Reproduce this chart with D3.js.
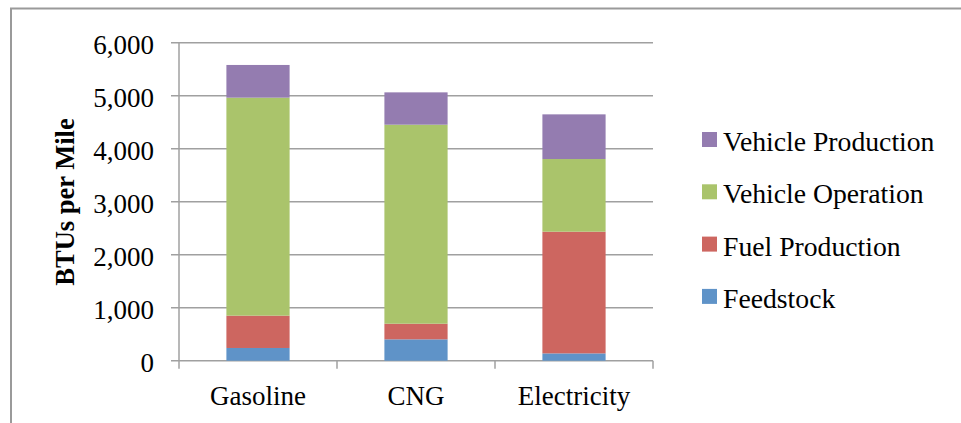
<!DOCTYPE html>
<html>
<head>
<meta charset="utf-8">
<script src="https://cdn.jsdelivr.net/npm/d3@7"></script>
<style>
  html, body { margin: 0; padding: 0; background: #fff; }
  #container { width: 961px; height: 423px; }
  text { font-family: "Liberation Serif", "DejaVu Serif", serif; fill: #000; }
</style>
</head>
<body>
<div id="container"></div>
<script>
const categories = ["Gasoline", "CNG", "Electricity"];
const seriesNames = ["Feedstock", "Fuel Production", "Vehicle Operation", "Vehicle Production"];
const feedstock = [240, 403, 138];
const fuelProduction = [610, 295, 2296];
const vehicleOperation = [4113, 3755, 1371];
const vehicleProduction = [617, 610, 843];
const yTicks = [0, 1000, 2000, 3000, 4000, 5000, 6000];
const colors = ["#5f93c8", "#cd6660", "#aac46b", "#947cb0"];

function draw() {
  const W = 961, H = 423;
  const margin = {top: 42.7, right: 308, bottom: 62.3, left: 179};
  const width = W - margin.left - margin.right;
  const height = H - margin.top - margin.bottom;

  const svg = d3.select("#container")
    .append("svg")
    .attr("width", W)
    .attr("height", H);

  // outer chart border (runs past the right and bottom edges)
  svg.append("rect")
    .attr("x", 11)
    .attr("y", 8.5)
    .attr("width", W + 20)
    .attr("height", H + 20)
    .attr("fill", "none")
    .attr("stroke", "#9a9a9a")
    .attr("stroke-width", 2);

  const g = svg.append("g")
    .attr("transform", `translate(${margin.left},${margin.top})`);

  const rows = categories.map((c, i) => ({
    category: c,
    "Feedstock": feedstock[i],
    "Fuel Production": fuelProduction[i],
    "Vehicle Operation": vehicleOperation[i],
    "Vehicle Production": vehicleProduction[i]
  }));

  const x = d3.scaleBand()
    .domain(categories)
    .range([0, width])
    .padding(0);

  const y = d3.scaleLinear()
    .domain([0, 6000])
    .range([height, 0]);

  const color = d3.scaleOrdinal()
    .domain(seriesNames)
    .range(colors);

  // gridlines
  g.selectAll(".grid")
    .data(yTicks)
    .enter()
    .append("line")
    .attr("x1", -8)
    .attr("x2", width)
    .attr("y1", d => y(d))
    .attr("y2", d => y(d))
    .attr("stroke", "#a0a0a0")
    .attr("stroke-width", 1.5);

  // y tick labels
  g.selectAll(".ylabel")
    .data(yTicks)
    .enter()
    .append("text")
    .attr("x", -25)
    .attr("y", d => y(d) + 11)
    .attr("text-anchor", "end")
    .style("font-size", "27px")
    .text(d => d3.format(",")(d));

  // y axis line
  g.append("line")
    .attr("x1", 0).attr("x2", 0)
    .attr("y1", 0).attr("y2", height + 8)
    .attr("stroke", "#a0a0a0")
    .attr("stroke-width", 1.5);

  // category ticks
  const edges = categories.map(c => x(c)).concat([width]);
  g.selectAll(".xtick")
    .data(edges.slice(1))
    .enter()
    .append("line")
    .attr("x1", d => d).attr("x2", d => d)
    .attr("y1", height).attr("y2", height + 8)
    .attr("stroke", "#a0a0a0")
    .attr("stroke-width", 1.5);

  // stacked bars
  const stacked = d3.stack().keys(seriesNames)(rows);
  const barW = x.bandwidth() * 0.4;

  g.selectAll(".layer")
    .data(stacked)
    .enter()
    .append("g")
    .attr("fill", d => color(d.key))
    .selectAll("rect")
    .data(d => d)
    .enter()
    .append("rect")
    .attr("x", d => x(d.data.category) + (x.bandwidth() - barW) / 2)
    .attr("width", barW)
    .attr("y", d => y(d[1]))
    .attr("height", d => y(d[0]) - y(d[1]));

  // x labels
  g.selectAll(".xlabel")
    .data(categories)
    .enter()
    .append("text")
    .attr("x", d => x(d) + x.bandwidth() / 2)
    .attr("y", height + 44)
    .attr("text-anchor", "middle")
    .style("font-size", "27px")
    .text(d => d);

  // y axis title
  svg.append("text")
    .attr("transform", `translate(74,202) rotate(-90)`)
    .attr("text-anchor", "middle")
    .style("font-size", "26.5px")
    .style("font-weight", "bold")
    .text("BTUs per Mile");

  // legend, top entry is the top of the stack
  const legendItems = seriesNames.slice().reverse();
  const legend = svg.append("g")
    .attr("transform", "translate(702,132)");

  legendItems.forEach((name, i) => {
    legend.append("rect")
      .attr("x", 0)
      .attr("y", i * 52.3)
      .attr("width", 15)
      .attr("height", 15)
      .attr("fill", color(name));

    legend.append("text")
      .attr("x", 21)
      .attr("y", i * 52.3 + 19)
      .style("font-size", "27.7px")
      .text(name);
  });
}

draw();
</script>
</body>
</html>
